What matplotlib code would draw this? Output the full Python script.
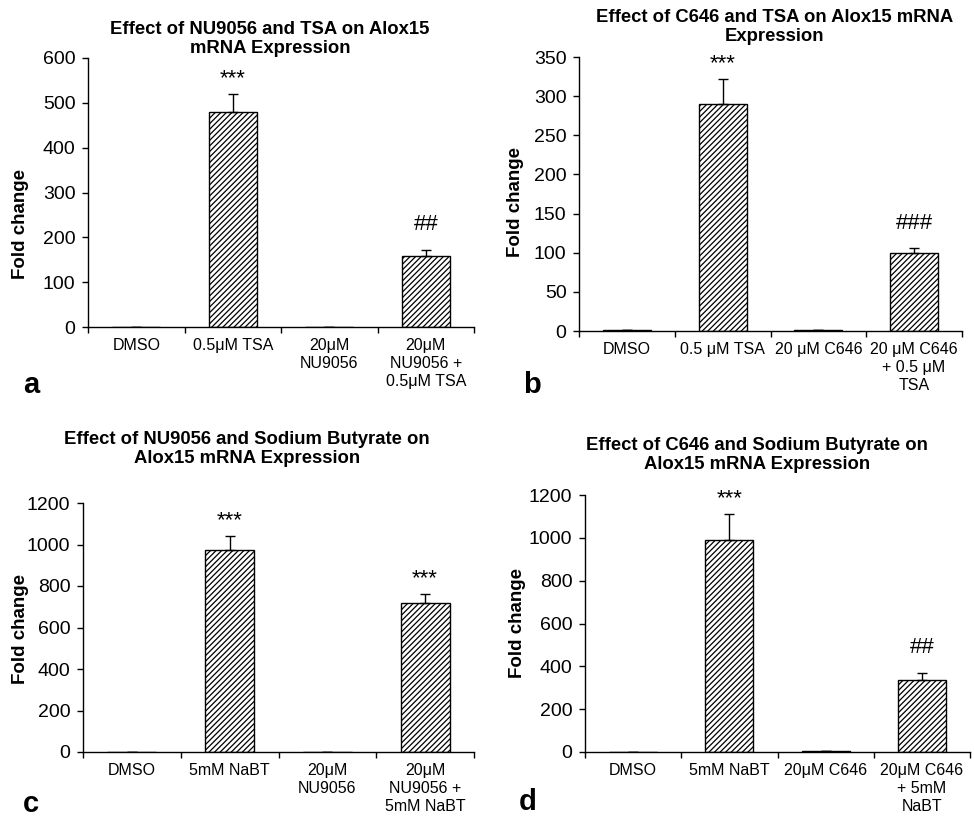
import numpy as np
import matplotlib
matplotlib.use('Agg')
import matplotlib.pyplot as plt

plt.rcParams['font.family'] = ['Liberation Sans', 'DejaVu Sans']
plt.rcParams['hatch.linewidth'] = 0.9

# panel a
labels_a = ['DMSO', '0.5μM TSA', '20μM\nNU9056', '20μM\nNU9056 +\n0.5μM TSA']
vals_a = [1, 480, 0.5, 158]
err_a = [0, 40, 0, 14]
sig_a = ['', '***', '', '##']

# panel b
labels_b = ['DMSO', '0.5 μM TSA', '20 μM C646', '20 μM C646\n+ 0.5 μM\nTSA']
vals_b = [1, 290, 1, 100]
err_b = [0, 32, 0, 6]
sig_b = ['', '***', '', '###']

# panel c
labels_c = ['DMSO', '5mM NaBT', '20μM\nNU9056', '20μM\nNU9056 +\n5mM NaBT']
vals_c = [1, 975, 1, 720]
err_c = [0, 65, 0, 40]
sig_c = ['', '***', '', '***']

# panel d
labels_d = ['DMSO', '5mM NaBT', '20μM C646', '20μM C646\n+ 5mM\nNaBT']
vals_d = [1, 990, 4, 335]
err_d = [0, 120, 0, 35]
sig_d = ['', '***', '', '##']

W, H = 974, 819
fig = plt.figure(figsize=(W / 100, H / 100), dpi=100)


def px_axes(x0, y_top, x1, y_bot):
    return fig.add_axes([x0 / W, 1 - y_bot / H, (x1 - x0) / W, (y_bot - y_top) / H])


def draw(ax, labels, vals, errs, sigs, ymax, ystep, ylab_pos):
    x = np.arange(len(vals))
    ax.bar(x, vals, width=0.5, color='white', edgecolor='black', linewidth=1.0,
           hatch='//////', zorder=2)
    ax.errorbar(x, vals, yerr=[np.zeros(len(errs)), errs], fmt='none', ecolor='black',
                elinewidth=1.0, capsize=3.5, capthick=1.0, zorder=3)
    for xi, v, e, s in zip(x, vals, errs, sigs):
        if not s:
            continue
        off = 11 if s.startswith('*') else 18
        ax.annotate(s, (xi, v + e), xytext=(0, off), textcoords='offset points',
                    ha='center', va='center', fontsize=16)
    ax.set_xlim(-0.5, len(vals) - 0.5)
    ax.set_ylim(0, ymax)
    ax.set_yticks(np.arange(0, ymax + 1, ystep))
    ax.tick_params(axis='y', labelsize=14, direction='out', length=4, width=1, pad=5)
    ax.set_xticks(np.arange(-0.5, len(vals)), minor=False)
    ax.set_xticklabels([])
    ax.set_xticks(x, minor=True)
    ax.set_xticklabels(labels, minor=True, fontsize=11.5, linespacing=1.25)
    ax.tick_params(axis='x', which='major', direction='out', length=4, width=1)
    ax.tick_params(axis='x', which='minor', length=0, pad=8)
    for sp in ['top', 'right']:
        ax.spines[sp].set_visible(False)
    ax.spines['left'].set_linewidth(1)
    ax.spines['bottom'].set_linewidth(1)
    ax.set_ylabel('Fold change', fontsize=13.5, fontweight='bold')
    ax.yaxis.set_label_coords(*ylab_pos)


ax_a = px_axes(88, 58, 474, 327)
draw(ax_a, labels_a, vals_a, err_a, sig_a, 600, 100, ((29 - 88) / 386, 0.383))
ax_b = px_axes(579, 57, 962, 331)
draw(ax_b, labels_b, vals_b, err_b, sig_b, 350, 50, ((524 - 579) / 383, 0.47))
ax_c = px_axes(83, 503, 474, 752)
draw(ax_c, labels_c, vals_c, err_c, sig_c, 1200, 200, ((29 - 83) / 391, 0.494))
ax_d = px_axes(585, 495, 970, 752)
draw(ax_d, labels_d, vals_d, err_d, sig_d, 1200, 200, ((526 - 585) / 385, 0.502))

titles = [
    (270, 39, 'Effect of NU9056 and TSA on Alox15\nmRNA Expression'),
    (775, 27, 'Effect of C646 and TSA on Alox15 mRNA\nExpression'),
    (247, 449, 'Effect of NU9056 and Sodium Butyrate on\nAlox15 mRNA Expression'),
    (757, 455, 'Effect of C646 and Sodium Butyrate on\nAlox15 mRNA Expression'),
]
for tx, ty, t in titles:
    fig.text(tx / W, 1 - ty / H, t, ha='center', va='center', fontsize=13.3,
             fontweight='bold', linespacing=1.15)

for lx, ly, l in [(31, 385, 'a'), (532, 385, 'b'), (31, 804, 'c'), (528, 802, 'd')]:
    fig.text(lx / W, 1 - ly / H, l, ha='center', va='center', fontsize=21,
             fontweight='bold')

fig.savefig('out.png', dpi=100)
